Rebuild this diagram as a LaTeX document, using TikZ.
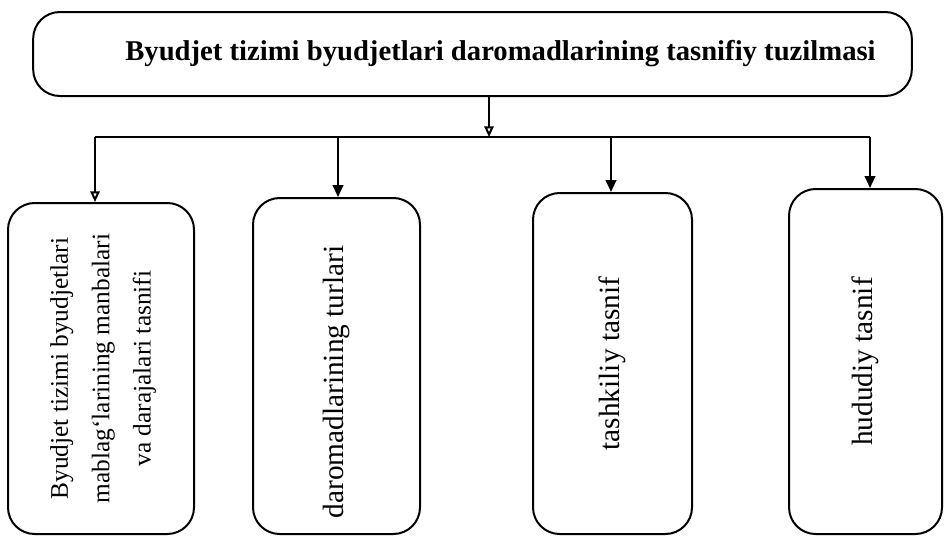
\documentclass[tikz,border=0pt]{standalone}
\usepackage{fontspec}
\setmainfont{Liberation Serif}
\usetikzlibrary{arrows.meta}
\tikzset{every picture/.style={line width=1.5pt}}
\tikzset{
box/.style={draw, rounded corners=20pt, inner sep=0pt, align=center},
openarr/.style={-{Triangle[open,length=8pt,width=7pt]}},
fullarr/.style={-{Triangle[length=9pt,width=8pt]}}
}

\begin{document}
\begin{tikzpicture}[x=0.75pt,y=0.75pt,yscale=-1,xscale=1]
\useasboundingbox (0,0) rectangle (944,536);

% Title box
\node [box, minimum width=659pt, minimum height=63pt] (title) at (472.5,54) {\fontsize{21.5}{26}\selectfont\bfseries\hspace*{42pt}Byudjet tizimi byudjetlari daromadlarining tasnifiy tuzilmasi};

% Lower boxes
\node [box, minimum width=139.5pt, minimum height=248.25pt] (src) at (101,368.5) {\rotatebox{90}{\fontsize{19}{31}\selectfont\begin{tabular}{@{}c@{}}Byudjet tizimi byudjetlari\\mablag‘larining manbalari\\va darajalari tasnifi\end{tabular}}};
\node [box, minimum width=125.25pt, minimum height=252pt] (kind) at (336.5,366) {\rotatebox{90}{\fontsize{22}{26}\selectfont daromadlarining turlari\hspace*{24pt}}};
\node [box, minimum width=119.25pt, minimum height=255.75pt] (org) at (612.5,363.5) {\rotatebox{90}{\fontsize{22}{26}\selectfont tashkiliy tasnif}};
\node [box, minimum width=114.75pt, minimum height=258.75pt] (reg) at (865.5,361.5) {\rotatebox{90}{\fontsize{22}{26}\selectfont hududiy tasnif}};

% Bus line
\coordinate (bus) at (489,137);
\coordinate (d1) at (95,137);
\coordinate (d2) at (338,137);
\coordinate (d3) at (611,137);
\coordinate (d4) at (870,137);
\draw [openarr] (title.south -| bus) -- (bus);
\draw (d1) -- (d4);
\draw [openarr] (d1) -- (d1 |- src.north);
\draw [fullarr] (d2) -- (d2 |- kind.north);
\draw [fullarr] (d3) -- (d3 |- org.north);
\draw [fullarr] (d4) -- (d4 |- reg.north);

\end{tikzpicture}
\end{document}
